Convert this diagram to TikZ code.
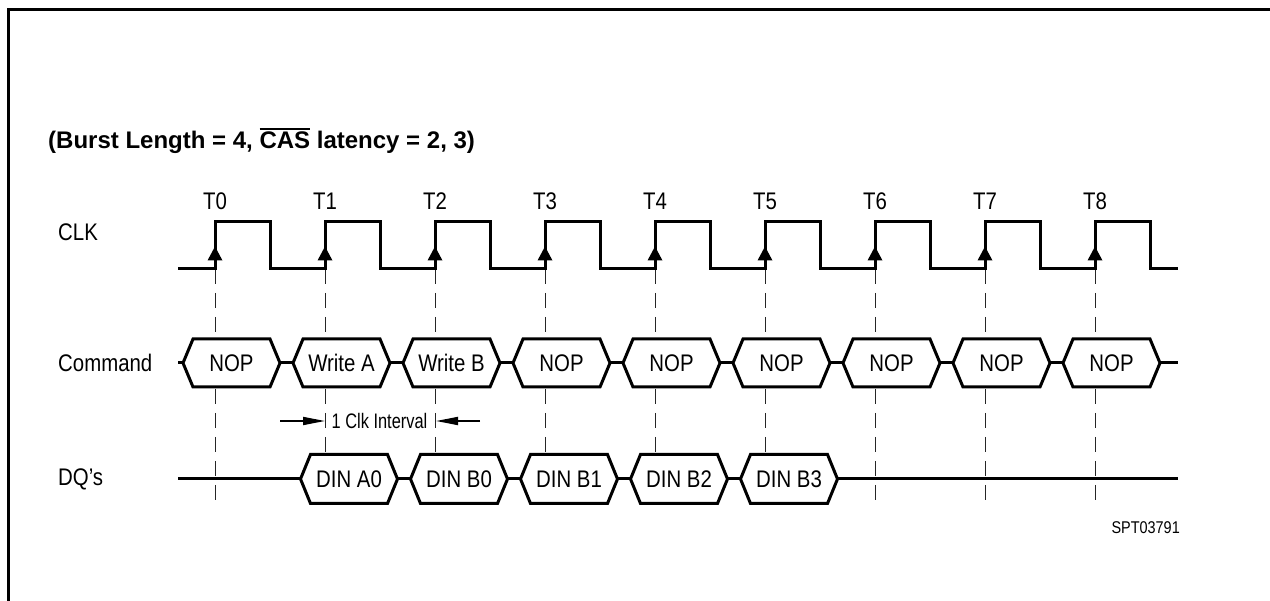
\documentclass[tikz,border=0pt]{standalone}
\usepackage{fontspec}
\setmainfont{Liberation Sans}
\newfontfamily\nar[FakeStretch=0.85]{Liberation Sans}
\newfontfamily\narint[FakeStretch=0.78]{Liberation Sans}
\usetikzlibrary{arrows.meta}
\newcommand{\ovbar}[1]{\vbox{\hrule height 1.6pt\kern 2.4pt\hbox{#1}}}
\begin{document}
\begin{tikzpicture}[x=1pt,y=-1pt,
  wave/.style={line width=3pt, line join=miter},
  bus/.style={line width=3pt, line join=miter},
  guide/.style={line width=1pt, black!85, dash pattern=on 15pt off 9pt},
  lbl/.style={font=\nar\fontsize{24}{28}\selectfont, inner sep=0pt},
  ann/.style={line width=1.8pt, -{Triangle[length=22pt,width=8pt]}}]
\useasboundingbox (0,0) rectangle (1270,601);
% frame (cut by the page)
\draw[line width=3pt] (8.5,601) -- (8.5,9.5) -- (1270,9.5);

% title
\node[anchor=base west, inner sep=0pt, font=\bfseries\fontsize{24}{28}\selectfont] (title) at (48,149)
  {(Burst Length = 4, \ovbar{CAS} latency = 2, 3)};

% signal names
\node[lbl, anchor=west] (clk) at (58,232) {CLK};
\node[lbl, anchor=west] (cmdname) at (58,363) {Command};
\node[lbl, anchor=west] (dqname) at (58,479) {DQ’s};

% clock edge labels and guides
\foreach \k in {0,...,8} {
  \coordinate (T\k) at ({215+110*\k},269);
  \coordinate (G\k) at ({215+110*\k},504);
  \node[lbl] (tl\k) at ({215+110*\k},201) {T\k};
  \draw[guide] (T\k) -- (G\k);
}

% clock waveform
\draw[wave] (178,269) foreach \k in {0,...,8} {
   -- ({215+110*\k},269) -- ({215+110*\k},222) -- ({270+110*\k},222) -- ({270+110*\k},269)
  } -- (1178,269);
\foreach \k in {0,...,8} {
  \fill ({215+110*\k},246.5) -- ({222.5+110*\k},260.5) -- ({207.5+110*\k},260.5) -- cycle;
}

% command bus
\draw[bus] (178,363) -- (183,363);
\foreach \k/\t in {0/NOP,1/Write A,2/Write B,3/NOP,4/NOP,5/NOP,6/NOP,7/NOP,8/NOP} {
  \pgfmathsetmacro\L{183+110*\k}
  \draw[bus, fill=white] (\L,363) -- ++(10,-24) -- ++(77,0) -- ++(10,24) -- ++(-10,24) -- ++(-77,0) -- cycle;
  \node[lbl] (cmd\k) at (\L+48.5,363) {\t};
}
\foreach \k in {0,...,7} {
  \pgfmathsetmacro\L{183+110*\k}
  \draw[bus] (\L+97,363) -- (\L+110,363);
}
\draw[bus] (1160,363) -- (1178,363);

% 1 clk interval
\node[inner sep=0pt, font=\narint\fontsize{21}{24}\selectfont] (intv) at (379.5,421) {1 Clk Interval};
\coordinate (ia) at (280,421);
\coordinate (ib) at (480,421);
\coordinate (iat) at (325,421);
\coordinate (ibt) at (436,421);
\draw[ann] (ia) -- (iat);
\draw[ann] (ib) -- (ibt);

% DQ bus
\draw[bus] (178,479) -- (300.5,479);
\foreach \k/\t in {0/DIN A0,1/DIN B0,2/DIN B1,3/DIN B2,4/DIN B3} {
  \pgfmathsetmacro\L{300.5+110*\k}
  \draw[bus, fill=white] (\L,479) -- ++(10,-24.5) -- ++(77,0) -- ++(10,24.5) -- ++(-10,24.5) -- ++(-77,0) -- cycle;
  \node[lbl] (dq\k) at (\L+48.5,479) {\t};
}
\foreach \k in {0,...,3} {
  \pgfmathsetmacro\L{300.5+110*\k}
  \draw[bus] (\L+97,479) -- (\L+110,479);
}
\draw[bus] (837.5,479) -- (1178,479);

% figure code
\node[anchor=east, inner sep=0pt, font=\nar\fontsize{17}{20}\selectfont] (code) at (1180,528) {SPT03791};
\end{tikzpicture}
\end{document}
